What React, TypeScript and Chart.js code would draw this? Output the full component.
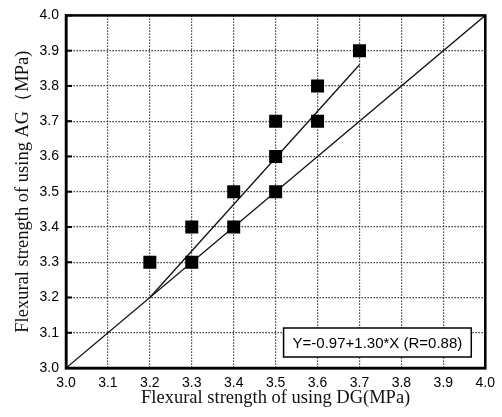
import React, { useEffect, useRef } from "react";
import { Chart, registerables } from "chart.js";

Chart.register(...registerables);

const X_TICKS = [3.0, 3.1, 3.2, 3.3, 3.4, 3.5, 3.6, 3.7, 3.8, 3.9, 4.0];
const Y_TICKS = [3.0, 3.1, 3.2, 3.3, 3.4, 3.5, 3.6, 3.7, 3.8, 3.9, 4.0];

const DG = [3.2, 3.3, 3.3, 3.4, 3.4, 3.5, 3.5, 3.5, 3.6, 3.6, 3.7];
const AG = [3.3, 3.4, 3.3, 3.5, 3.4, 3.7, 3.6, 3.5, 3.8, 3.7, 3.9];

const FIT_X = [3.2, 3.7];
const FIT_Y = [3.2, 3.86];

const REF_X = [3.0, 4.0];
const REF_Y = [3.0, 4.0];

const EQUATION = "Y=-0.97+1.30*X (R=0.88)";
const X_TITLE = "Flexural strength of using DG(MPa)";
const Y_TITLE = "Flexural strength of using AG\uFF08MPa)";

const toPts = (xs: number[], ys: number[]) => xs.map((x, i) => ({ x, y: ys[i] }));

const framePlugin = {
  id: "frame",
  afterDatasetsDraw(chart: any) {
    const { ctx, chartArea: a, scales } = chart;
    ctx.save();
    ctx.strokeStyle = "#000";
    ctx.lineWidth = 2;
    Y_TICKS.forEach((v) => {
      const y = scales.y.getPixelForValue(v);
      ctx.beginPath();
      ctx.moveTo(a.left, y);
      ctx.lineTo(a.left + 6, y);
      ctx.stroke();
    });
    ctx.lineWidth = 2.5;
    ctx.strokeRect(a.left, a.top, a.right - a.left, a.bottom - a.top);
    ctx.font = "15px 'Liberation Sans', Arial, sans-serif";
    const tw = ctx.measureText(EQUATION).width;
    const bw = tw + 18;
    const bh = 29;
    const bx = a.right - 14 - bw;
    const by = a.bottom - 11 - bh;
    ctx.fillStyle = "#fff";
    ctx.fillRect(bx, by, bw, bh);
    ctx.lineWidth = 1.5;
    ctx.strokeRect(bx, by, bw, bh);
    ctx.fillStyle = "#000";
    ctx.textAlign = "center";
    ctx.textBaseline = "middle";
    ctx.fillText(EQUATION, bx + bw / 2, by + bh / 2 + 1);
    ctx.restore();
  },
};

export default function App() {
  const ref = useRef<HTMLCanvasElement>(null);
  useEffect(() => {
    document.body.style.margin = "0";
    if (!ref.current) return;
    const tickFont = { family: "'Liberation Sans', Arial, sans-serif", size: 14 };
    const titleFont = { family: "'Liberation Serif', 'DejaVu Serif', serif", size: 18.5 };
    const chart = new Chart(ref.current, {
      type: "scatter",
      data: {
        datasets: [
          {
            label: "y=x",
            data: toPts(REF_X, REF_Y),
            showLine: true,
            borderColor: "#111",
            borderWidth: 1.3,
            pointRadius: 0,
            order: 2,
          },
          {
            label: "fit",
            data: toPts(FIT_X, FIT_Y),
            showLine: true,
            borderColor: "#111",
            borderWidth: 1.3,
            pointRadius: 0,
            order: 3,
          },
          {
            label: "data",
            data: toPts(DG, AG),
            pointStyle: "rect",
            pointRadius: 9.2,
            backgroundColor: "#000",
            borderColor: "#000",
            borderWidth: 0,
            order: 1,
          },
        ],
      },
      options: {
        responsive: false,
        animation: false,
        layout: { padding: { left: 0, right: 14, top: 13, bottom: 0 } },
        plugins: { legend: { display: false }, tooltip: { enabled: false } },
        scales: {
          x: {
            type: "linear",
            min: 3.0,
            max: 4.0,
            afterBuildTicks: (s: any) => {
              s.ticks = X_TICKS.map((v) => ({ value: v }));
            },
            afterFit: (s: any) => {
              s.height = 49;
            },
            ticks: {
              font: tickFont,
              color: "#000",
              padding: 7,
              maxRotation: 0,
              autoSkip: false,
              callback: (v: any) => Number(v).toFixed(1),
            },
            grid: {
              color: "#1a1a1a",
              lineWidth: 1.2,
              drawTicks: false,
            },
            border: { display: true, color: "#000", width: 2.5, dash: [1.3, 1.7] },
            title: {
              display: true,
              text: X_TITLE,
              font: titleFont,
              color: "#111",
              padding: { top: 0, bottom: 8 },
            },
          },
          y: {
            type: "linear",
            min: 3.0,
            max: 4.0,
            afterBuildTicks: (s: any) => {
              s.ticks = Y_TICKS.map((v) => ({ value: v }));
            },
            afterFit: (s: any) => {
              s.width = 66;
            },
            ticks: {
              font: tickFont,
              color: "#000",
              padding: 7,
              autoSkip: false,
              callback: (v: any) => Number(v).toFixed(1),
            },
            grid: {
              color: "#1a1a1a",
              lineWidth: 1.2,
              drawTicks: false,
            },
            border: { display: true, color: "#000", width: 2.5, dash: [1.3, 1.7] },
            title: {
              display: true,
              text: Y_TITLE,
              font: titleFont,
              color: "#111",
              padding: { top: 12, bottom: 0 },
            },
          },
        },
      },
      plugins: [framePlugin],
    } as any);
    return () => chart.destroy();
  }, []);
  return (
    <div style={{ position: "absolute", left: 0, top: 0, width: 502, height: 417, background: "#fff" }}>
      <canvas ref={ref} width={502} height={417} style={{ width: 502, height: 417 }} />
    </div>
  );
}
